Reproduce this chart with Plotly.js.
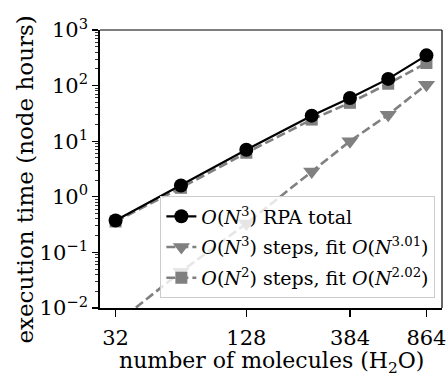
<!DOCTYPE html>
<html>
<head>
<meta charset="utf-8">
<script src="https://cdn.plot.ly/plotly-3.0.1.min.js"></script>
<style>html,body{margin:0;padding:0;background:#fff}#chart{width:448px;height:376px}</style>
</head>
<body>
<div id="chart"></div>
<script>
const molecules = [32, 64, 128, 256, 384, 576, 864];
const rpaTotal = [0.375, 1.6, 7.0, 28.8, 60, 132, 350];
const stepsN3 = [0.0052, 0.045, 0.33, 2.85, 10, 30, 104];
const stepsN2 = [0.36, 1.45, 6.2, 24.5, 49, 108, 255];
const xTickVals = [32, 128, 384, 864];
const xTickText = ['32', '128', '384', '864'];
const yTickVals = [0.01, 0.1, 1, 10, 100, 1000];
const yTickText = ['10<sup>\u22122</sup>', '10<sup>\u22121</sup>', '10<sup>0</sup>', '10<sup>1</sup>', '10<sup>2</sup>', '10<sup>3</sup>'];
const seriesNames = [
  '<i>O</i>(<i>N</i><sup>3</sup>) RPA total',
  '<i>O</i>(<i>N</i><sup>3</sup>) steps, fit <i>O</i>(<i>N</i><sup>3.01</sup>)',
  '<i>O</i>(<i>N</i><sup>2</sup>) steps, fit <i>O</i>(<i>N</i><sup>2.02</sup>)'
];
const xTitle = 'number of molecules (H<sub>2</sub>O)';
const yTitle = 'execution time (node hours)';

const minorVals = [];
for (let e = -2; e < 3; e++) for (let k = 2; k <= 9; k++) minorVals.push(k * Math.pow(10, e));

const gray = '#808080';
const traces = [
  {x: molecules, y: stepsN3, name: seriesNames[1], legendrank: 2, legendgroup: 'b', mode: 'lines+markers',
   line: {color: gray, width: 2.6, dash: '9px,4px'}, marker: {symbol: 'triangle-down', size: 15, color: gray}},
  {x: molecules, y: stepsN2, name: seriesNames[2], legendrank: 3, legendgroup: 'c', mode: 'lines+markers',
   line: {color: gray, width: 2.6, dash: '9px,4px'}, marker: {symbol: 'square', size: 12, color: gray}},
  {x: molecules, y: rpaTotal, name: seriesNames[0], legendrank: 1, legendgroup: 'a', mode: 'lines+markers',
   line: {color: '#000', width: 2.2}, marker: {symbol: 'circle', size: 14, color: '#000'}}
];

const layout = {
  width: 448, height: 376,
  margin: {l: 100, r: 6, t: 30, b: 68},
  paper_bgcolor: '#fff', plot_bgcolor: '#fff',
  font: {family: 'DejaVu Serif', color: '#000', size: 19},
  showlegend: true,
  legend: {x: 0.98, xanchor: 'right', y: 0.035, yanchor: 'bottom',
    bgcolor: 'rgba(255,255,255,0.8)', bordercolor: '#cccccc', borderwidth: 1.2,
    font: {size: 19, family: 'DejaVu Serif'}, traceorder: 'grouped', tracegroupgap: 3},
  xaxis: {type: 'log', range: [1.4334, 3.0081], tickmode: 'array', tickvals: xTickVals, ticktext: xTickText,
    ticks: 'outside', ticklen: 7, tickwidth: 1.2, tickcolor: '#000', showgrid: false, zeroline: false,
    showline: true, linecolor: '#000', linewidth: 1.8, automargin: false, ticklabelstandoff: 3,
    tickfont: {size: 21}},
  yaxis: {type: 'log', range: [-2, 3], tickmode: 'array', tickvals: yTickVals, ticktext: yTickText,
    ticks: 'outside', ticklen: 6, tickwidth: 1.2, tickcolor: '#000', showgrid: false, zeroline: false,
    showline: true, linecolor: '#000', linewidth: 1.8, automargin: false,
    tickfont: {size: 21},
    minor: {tickmode: 'array', tickvals: minorVals, ticks: 'outside', ticklen: 3, tickwidth: 0.8, tickcolor: '#000', showgrid: false}},
  annotations: [
    {text: yTitle, textangle: -90, xref: 'paper', yref: 'paper', x: -0.22, y: 0.461,
     xanchor: 'center', yanchor: 'middle', showarrow: false, font: {size: 23}},
    {text: xTitle, xref: 'paper', yref: 'paper', x: 0.5, y: -0.197,
     xanchor: 'center', yanchor: 'middle', showarrow: false, font: {size: 22}}
  ],
  shapes: [
    {type: 'line', xref: 'paper', yref: 'paper', x0: 0, x1: 1, y0: 1, y1: 1, line: {color: '#000', width: 1.2}},
    {type: 'line', xref: 'paper', yref: 'paper', x0: 1, x1: 1, y0: 0, y1: 1, line: {color: '#000', width: 1.2}}
  ]
};

Plotly.newPlot('chart', traces, layout, {displayModeBar: false, staticPlot: true});
</script>
</body>
</html>
